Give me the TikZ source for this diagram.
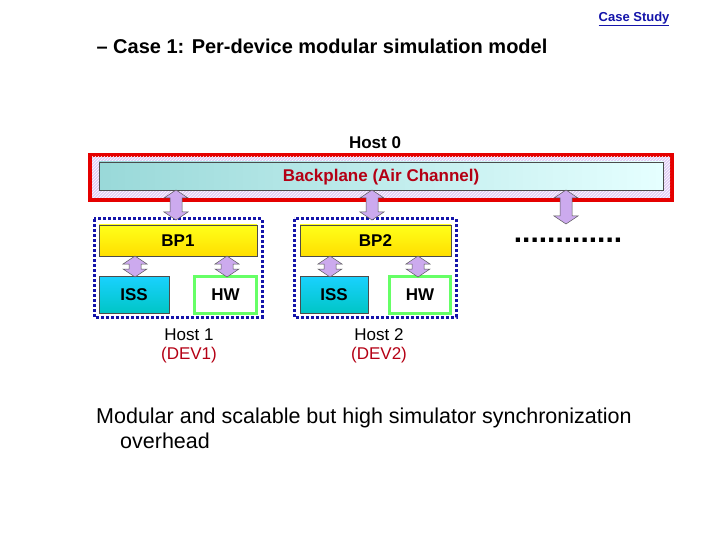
\documentclass[tikz,border=0pt]{standalone}
\usepackage{fontspec}
\setmainfont{Liberation Sans}
\usetikzlibrary{patterns}
\definecolor{lav}{RGB}{204,170,238}
\definecolor{dred}{RGB}{180,0,20}
\definecolor{dblue}{RGB}{20,20,170}
\tikzset{
 darr/.pic={\filldraw[fill=lav,draw=gray!70!black,line width=0.5pt]
   (0,0)--(12,8)--(6,8)--(6,{#1-8})--(12,{#1-8})--(0,#1)--(-12,{#1-8})--(-6,{#1-8})--(-6,8)--(-12,8)--cycle;},
 hostbox/.style={draw=dblue,line width=3pt,dash pattern=on 3pt off 2pt},
 bx/.style={font=\bfseries\fontsize{17}{20}\selectfont},
 bp/.style={bx,draw=black!70,line width=0.6pt,top color=yellow!90!white,bottom color=yellow!75!orange},
 iss/.style={bx,draw=black!70,line width=0.6pt,top color=cyan!80!blue!90,bottom color=cyan!55!teal},
 hw/.style={bx,draw=green!60!white,line width=3pt,fill=white},
 lbl/.style={font=\fontsize{17}{19}\selectfont},
}
\begin{document}
\begin{tikzpicture}[x=1pt,y=-1pt]
\useasboundingbox (0,0) rectangle (720,540);
\node[font=\bfseries\fontsize{13}{15}\selectfont,text=dblue,anchor=east] (cs) at (673,19) {\underline{Case Study}};
\node[font=\bfseries\fontsize{20}{24}\selectfont,anchor=west] (title) at (93,46) {– Case 1: Per-device modular simulation model};
\node[bx] (h0) at (375,143) {Host 0};
% backplane
\draw[draw=red!90!black,line width=4pt,fill=lav!60] (90,155) rectangle (672,200);
\fill[pattern=north east lines,pattern color=white] (92,157) rectangle (670,198);
\node[draw=black!70,line width=0.6pt,left color=cyan!25!teal!40,right color=cyan!10,minimum width=564pt,minimum height=28pt,inner sep=0pt] (bpl) at (381,176) {};
\node[text=dred,bx] (bpt) at (381,177) {Backplane (Air Channel)};
% hosts
\draw[hostbox] (94,219) rectangle (262,317);
\draw[hostbox] (294,219) rectangle (456,317);
\node[bp,minimum width=158pt,minimum height=31pt,inner sep=0pt] (bp1) at (178,240.5) {BP1};
\node[bp,minimum width=151pt,minimum height=31pt,inner sep=0pt] (bp2) at (375.5,240.5) {BP2};
\node[iss,minimum width=70pt,minimum height=37pt,inner sep=0pt] (iss1) at (134,294.5) {ISS};
\node[iss,minimum width=68pt,minimum height=37pt,inner sep=0pt] (iss2) at (334,294.5) {ISS};
\node[hw,minimum width=62pt,minimum height=37pt,inner sep=0pt] (hw1) at (225.5,295) {HW};
\node[hw,minimum width=61pt,minimum height=37pt,inner sep=0pt] (hw2) at (420,295) {HW};
% arrows
\pic at (176,190) {darr=30};
\pic at (372,190) {darr=30};
\pic at (566,190) {darr=34};
\pic at (135,256) {darr=21};
\pic at (227,256) {darr=21};
\pic at (330,256) {darr=21};
\pic at (418,256) {darr=21};
\node[font=\bfseries\fontsize{30}{34}\selectfont] (dots) at (568,240) {.............};
% labels
\node[lbl,align=center] (l1) at (189,346) {Host 1\\\textcolor{dred}{(DEV1)}};
\node[lbl,align=center] (l2) at (379,346) {Host 2\\\textcolor{dred}{(DEV2)}};
\node[font=\fontsize{21.5}{25}\selectfont,anchor=north west,align=left,inner sep=0pt] (bot) at (96,408) {Modular and scalable but high simulator synchronization\\\hspace*{24pt}overhead};
\end{tikzpicture}
\end{document}
